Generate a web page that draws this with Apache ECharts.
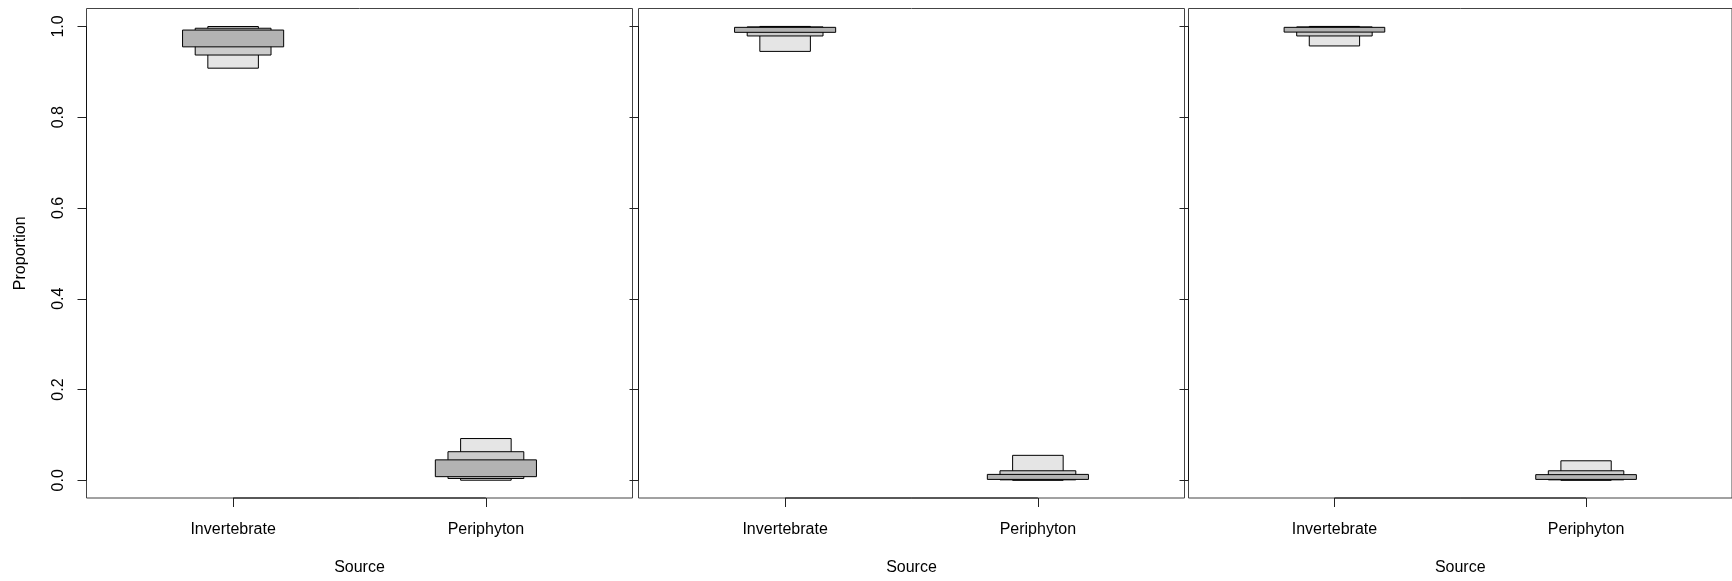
<!DOCTYPE html>
<html>
<head>
<meta charset="utf-8">
<script src="https://cdn.jsdelivr.net/npm/echarts@6/dist/echarts.min.js"></script>
<style>
  html, body { margin: 0; padding: 0; background: #fff; }
  #chart { width: 1732px; height: 581px; }
</style>
</head>
<body>
<div id="chart"></div>
<script>
// categories and tick labels
const categories = ["Invertebrate", "Periphyton"];
const yTicks = [0, 0.2, 0.4, 0.6, 0.8, 1.0];

// credible intervals [low, high] per source (Invertebrate, Periphyton), one set per panel
const panel1_95 = [[0.908, 0.9998], [0.0002, 0.092]];
const panel1_75 = [[0.937, 0.996], [0.004, 0.063]];
const panel1_50 = [[0.955, 0.992], [0.008, 0.045]];

const panel2_95 = [[0.945, 1.0], [0.0, 0.055]];
const panel2_75 = [[0.979, 0.999], [0.001, 0.021]];
const panel2_50 = [[0.987, 0.998], [0.002, 0.013]];

const panel3_95 = [[0.957, 1.0], [0.0, 0.043]];
const panel3_75 = [[0.979, 0.999], [0.001, 0.021]];
const panel3_50 = [[0.9875, 0.998], [0.002, 0.0125]];

const panels = [
  [panel1_95, panel1_75, panel1_50],
  [panel2_95, panel2_75, panel2_50],
  [panel3_95, panel3_75, panel3_50],
];

// drawing settings
const xMin = 0.42, xMax = 2.58;
const yMin = -0.039, yMax = 1.0395;
const halfWidths = [0.1, 0.15, 0.2];
const fills = ["#e5e5e5", "#cccccc", "#b3b3b3"];
const gridLefts = [86.5, 638.5, 1188.5];
const font = "'Liberation Sans', Arial, sans-serif";

const myChart = echarts.init(document.getElementById("chart"));

const grids = [];
const xAxes = [];
const yAxes = [];
const series = [];

gridLefts.forEach(function (left, i) {
  grids.push({
    left: left,
    top: 8.5,
    width: 546,
    height: 491,
    show: true,
    borderColor: "#444",
    borderWidth: 1,
  });
  xAxes.push({
    type: "value",
    gridIndex: i,
    position: "bottom",
    min: xMin,
    max: xMax,
    name: "Source",
    nameLocation: "middle",
    nameGap: 61,
    nameTextStyle: { fontFamily: font, fontSize: 16, color: "#000", lineHeight: 17 },
    axisLine: { show: false, onZero: false },
    splitLine: { show: false },
    axisTick: {
      show: true,
      customValues: [1, 2],
      length: 9,
      lineStyle: { color: "#222" },
    },
    axisLabel: {
      show: true,
      customValues: [1, 2],
      margin: 23,
      fontFamily: font,
      fontSize: 16,
      color: "#000",
      lineHeight: 17,
      formatter: function (v) {
        return categories[Math.round(v) - 1];
      },
    },
  });
  yAxes.push({
    type: "value",
    gridIndex: i,
    position: "left",
    min: yMin,
    max: yMax,
    name: i === 0 ? "Proportion" : "",
    nameLocation: "middle",
    nameRotate: 90,
    nameGap: 57,
    nameTextStyle: { fontFamily: font, fontSize: 16, color: "#000", lineHeight: 17 },
    axisLine: { show: false, onZero: false },
    splitLine: { show: false },
    axisTick: {
      show: true,
      customValues: yTicks,
      length: 9,
      lineStyle: { color: "#222" },
    },
    axisLabel: {
      show: i === 0,
      customValues: yTicks,
      rotate: 90,
      margin: 20,
      fontFamily: font,
      fontSize: 16,
      color: "#000",
      formatter: function (v) {
        return v.toFixed(1);
      },
    },
  });

  // box data: [category position, low, high, level]
  const boxData = [];
  panels[i].forEach(function (level, li) {
    level.forEach(function (iv, ci) {
      boxData.push([ci + 1, iv[0], iv[1], li]);
    });
  });

  series.push({
    type: "custom",
    xAxisIndex: i,
    yAxisIndex: i,
    silent: true,
    data: boxData,
    renderItem: function (params, api) {
      const x = api.value(0);
      const lo = api.value(1);
      const hi = api.value(2);
      const li = api.value(3);
      const hw = halfWidths[li];
      const p1 = api.coord([x - hw, hi]);
      const p2 = api.coord([x + hw, lo]);
      return {
        type: "rect",
        shape: { x: p1[0], y: p1[1], width: p2[0] - p1[0], height: p2[1] - p1[1] },
        style: { fill: fills[li], stroke: "#000", lineWidth: 1 },
      };
    },
  });

  // axis lines drawn between first and last tick
  series.push({
    type: "custom",
    xAxisIndex: i,
    yAxisIndex: i,
    silent: true,
    data: [[0]],
    renderItem: function (params, api) {
      const a = api.coord([1, yMin]);
      const b = api.coord([categories.length, yMin]);
      const c = api.coord([xMin, yTicks[0]]);
      const d = api.coord([xMin, yTicks[yTicks.length - 1]]);
      return {
        type: "group",
        children: [
          { type: "line", shape: { x1: a[0], y1: a[1], x2: b[0], y2: b[1] }, style: { stroke: "#111", lineWidth: 1 } },
          { type: "line", shape: { x1: c[0], y1: c[1], x2: d[0], y2: d[1] }, style: { stroke: "#111", lineWidth: 1 } },
        ],
      };
    },
  });
});

const option = {
  backgroundColor: "#fff",
  animation: false,
  grid: grids,
  xAxis: xAxes,
  yAxis: yAxes,
  series: series,
};

myChart.setOption(option);
</script>
</body>
</html>
